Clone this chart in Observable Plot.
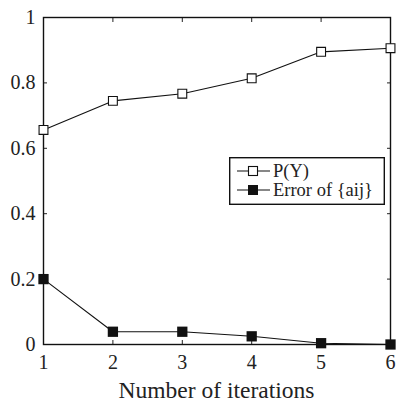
<!DOCTYPE html>
<html><head><meta charset="utf-8">
<script src="https://cdn.jsdelivr.net/npm/d3@7"></script>
<script src="https://cdn.jsdelivr.net/npm/@observablehq/plot@0.6"></script>
<style>
body{margin:0;background:#fff;overflow:hidden;}
#wrap{position:relative;width:396px;height:403px;font-family:"Liberation Serif","DejaVu Serif",serif;}
#wrap svg text{font-family:"Liberation Serif","DejaVu Serif",serif;}
#legend{position:absolute;left:229px;top:157px;}
</style></head>
<body><div id="wrap"></div>
<script>
const iterations = [1, 2, 3, 4, 5, 6];
const pY = [0.656, 0.745, 0.767, 0.814, 0.895, 0.906];
const errA = [0.200, 0.039, 0.039, 0.025, 0.004, 0.000];
const yTicks = [0, 0.2, 0.4, 0.6, 0.8, 1];
const seriesNames = ["P(Y)", "Error of {aij}"];

const dataP = iterations.map((x, i) => ({x, y: pY[i]}));
const dataE = iterations.map((x, i) => ({x, y: errA[i]}));

const chart = Plot.plot({
  width: 396, height: 403,
  marginLeft: 43, marginRight: 6, marginTop: 17, marginBottom: 59,
  style: {fontFamily: "Liberation Serif, DejaVu Serif, serif", fontSize: "20px", color: "#222", background: "#fff"},
  x: {domain: [1, 6]},
  y: {domain: [0, 1]},
  marks: [
    Plot.axisX(iterations, {anchor: "bottom", tickSize: -4, tickPadding: 14, tickFormat: d => String(d), fontSize: 20, label: null, strokeWidth: 1}),
    Plot.axisX(iterations, {anchor: "top", tickSize: -4, text: null, label: null, strokeWidth: 1}),
    Plot.axisY(yTicks, {anchor: "left", tickSize: -4, tickPadding: 12, tickFormat: d => String(d), fontSize: 20, label: null, strokeWidth: 1}),
    Plot.axisY(yTicks, {anchor: "right", tickSize: -4, text: null, label: null, strokeWidth: 1}),
    Plot.frame({stroke: "#111", strokeWidth: 1.4}),
    Plot.line(dataP, {x: "x", y: "y", stroke: "#111", strokeWidth: 1.1}),
    Plot.dot(dataP, {x: "x", y: "y", symbol: "square", r: 5, stroke: "#111", fill: "#fff", strokeWidth: 1.1}),
    Plot.line(dataE, {x: "x", y: "y", stroke: "#111", strokeWidth: 1.1}),
    Plot.dot(dataE, {x: "x", y: "y", symbol: "square", r: 5.8, fill: "#111", stroke: "none"})
  ]
});
const wrap = document.getElementById("wrap");
wrap.appendChild(chart);

// x-axis title
const title = document.createElement("div");
title.textContent = "Number of iterations";
title.style.cssText = "position:absolute;left:43px;width:347px;text-align:center;top:378px;font-size:23.5px;line-height:24px;white-space:nowrap;color:#222;";
wrap.appendChild(title);

// legend
const ns = "http://www.w3.org/2000/svg";
const lg = document.createElementNS(ns, "svg");
lg.setAttribute("id", "legend");
lg.setAttribute("width", 156); lg.setAttribute("height", 48);
lg.innerHTML = `<rect x="0.7" y="0.7" width="154.6" height="46.6" fill="#fff" stroke="#111" stroke-width="1.4"/>` +
  seriesNames.map((n, i) => {
    const cy = 14 + i * 19;
    const sq = i === 0
      ? `<rect x="19.5" y="${cy-4.5}" width="9" height="9" fill="#fff" stroke="#111" stroke-width="1.1"/>`
      : `<rect x="19" y="${cy-5}" width="10" height="10" fill="#111"/>`;
    return `<line x1="8" x2="41" y1="${cy}" y2="${cy}" stroke="#111" stroke-width="1.1"/>${sq}` +
      `<text x="44" y="${cy}" dy="0.35em" font-size="18.5" fill="#222">${n}</text>`;
  }).join("");
wrap.appendChild(lg);
</script></body></html>
